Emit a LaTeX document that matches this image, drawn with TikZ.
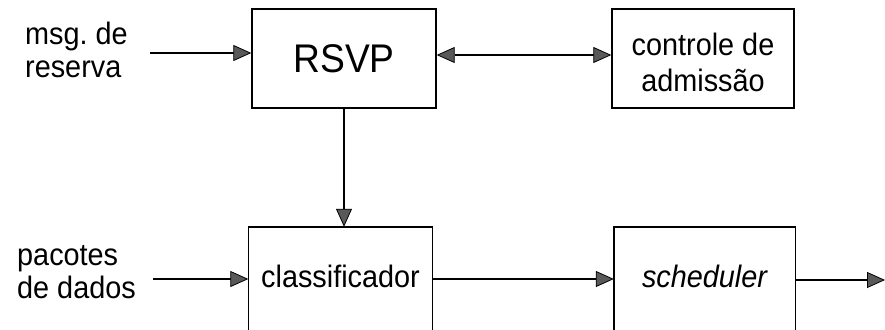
\documentclass[tikz,border=0pt]{standalone}
\usepackage{fontspec}
\setmainfont{Liberation Sans}[FakeStretch=0.93]
\usetikzlibrary{arrows.meta}

\tikzset{
  blockbox/.style={draw=black, line width=1.4pt, minimum width=184pt, minimum height=99pt,
    inner sep=0pt, align=center, font=\fontsize{31}{36}\selectfont},
  openbox/.style={minimum width=184pt, minimum height=98pt, inner sep=0pt, align=center,
    font=\fontsize{31}{36}\selectfont},
  frame/.style={draw=black, line width=1.4pt},
  label/.style={inner sep=0pt, align=left, anchor=west, font=\fontsize{31}{33}\selectfont},
  tip/.tip={Triangle[length=18pt, width=16pt, fill=black!65, line width=0.8pt]},
  arr/.style={draw=black, line width=1.4pt, -tip},
  arrboth/.style={draw=black, line width=1.4pt, tip-tip},
}

\begin{document}
\begin{tikzpicture}[x=1pt, y=-1pt]
  \useasboundingbox (0,0) rectangle (885,329);
  \clip (0,0) rectangle (885,329);

  % blocks
  \node[blockbox, font=\fontsize{40}{42}\selectfont] (rsvp) at (344,58.5) {RSVP};
  \node[blockbox, minimum width=182pt] (ctl) at (703,58.5) {\rule{0pt}{31pt}controle de\\admissão};
  \node[openbox] (cls) at (340.5,276) {classificador};
  \node[openbox, minimum width=181pt] (sch) at (704.5,276) {\itshape scheduler};

  % the lower blocks run past the bottom edge
  \draw[frame] ([yshift=-60pt]cls.south west) -- (cls.north west) -- (cls.north east) -- ([yshift=-60pt]cls.south east);
  \draw[frame] ([yshift=-60pt]sch.south west) -- (sch.north west) -- (sch.north east) -- ([yshift=-60pt]sch.south east);

  % input labels
  \node[label] (msg) at (25,50.4) {msg.~de\\reserva};
  \node[label] (pac) at (17,272.6) {pacotes\\de dados};

  \coordinate (msgin) at (150,53);
  \coordinate (pacin) at (153,279);
  \coordinate (out) at (885,280);

  % connectors
  \draw[arr] (msgin) -- (msgin -| rsvp.west);
  \draw[arrboth] ([yshift=3.5pt]rsvp.east) -- ([yshift=3.5pt]ctl.west);
  \draw[arr] (rsvp.south) -- (rsvp.south |- cls.north);
  \draw[arr] (pacin) -- (pacin -| cls.west);
  \draw[arr] (pacin -| cls.east) -- (pacin -| sch.west);
  \draw[arr] (out -| sch.east) -- (out);
\end{tikzpicture}
\end{document}
